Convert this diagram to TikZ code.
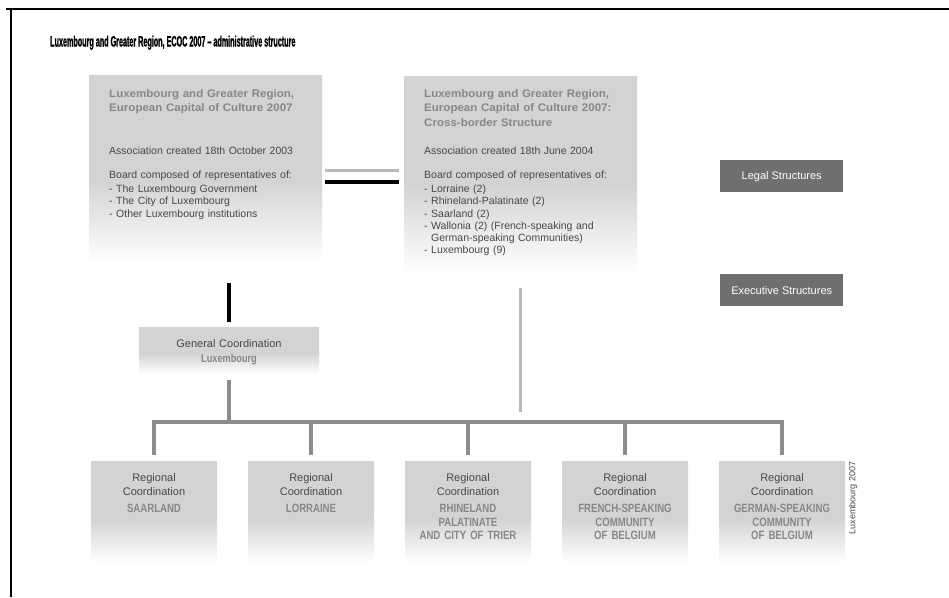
\documentclass[tikz,border=0pt]{standalone}
\usepackage{fontspec}
\setmainfont{Liberation Sans}
\newfontfamily\headfont{Liberation Sans}[FakeStretch=0.48,FakeBold=1.2]
\newfontfamily\btfont{Liberation Sans}[FakeStretch=1.05]
\newfontfamily\capfont{Liberation Sans}[FakeStretch=0.8]
\definecolor{boxgray}{HTML}{D3D3D3}
\definecolor{titlegray}{HTML}{878787}
\definecolor{bodygray}{HTML}{474747}
\definecolor{darkbox}{HTML}{6F6F6F}
\definecolor{linegray}{HTML}{8C8C8C}
\definecolor{lightline}{HTML}{B8B8B8}
\pgfdeclareverticalshading{boxfade}{100bp}{color(0bp)=(white); color(25bp)=(white); color(47bp)=(boxgray); color(100bp)=(boxgray)}
\tikzset{
  fadebox/.style={shade, shading=boxfade, draw=none, inner sep=0pt, outer sep=0pt, anchor=north west},
  darklabel/.style={fill=darkbox, draw=none, inner sep=0pt, anchor=north west, minimum width=123pt, minimum height=32pt, text=white, font=\fontsize{11}{13}\selectfont},
  boxtitle/.style={anchor=base west, inner sep=0pt, text width=225pt, align=left, text=titlegray, font=\btfont\bfseries\fontsize{11}{14.5}\selectfont},
  bodytext/.style={anchor=base west, inner sep=0pt, text width=225pt, align=left, text=bodygray, font=\fontsize{10.5}{12.2}\selectfont},
  regtext/.style={anchor=base, inner sep=0pt, text width=124pt, align=center, text=bodygray, font=\fontsize{11}{14}\selectfont},
  captext/.style={anchor=base, inner sep=0pt, text width=124pt, align=center, text=titlegray, font=\capfont\bfseries\fontsize{12}{13.5}\selectfont},
  blackline/.style={draw=black, line width=3.5pt},
  greyline/.style={draw=linegray, line width=3.5pt},
  paleline/.style={draw=lightline, line width=3pt}
}
\begin{document}
\begin{tikzpicture}[x=1pt,y=-1pt]
\useasboundingbox (0,0) rectangle (949,597);
% frame
\draw[line width=2pt] (6,9) -- (949,9);
\draw[line width=1.6pt] (11,9) -- (11,597);
% title
\node[anchor=base west, inner sep=0pt, font=\headfont\bfseries\fontsize{15}{17}\selectfont] (title) at (50,46.5) {Luxembourg and Greater Region, ECOC 2007 – administrative structure};

% top boxes
\node[fadebox, minimum width=233pt, minimum height=188pt] (box1) at (89,75) {};
\node[fadebox, minimum width=233pt, minimum height=196pt] (box2) at (404,76) {};

\node[boxtitle] (b1t) at (109,97) {Luxembourg and Greater Region,\\European Capital of Culture 2007};
\node[bodytext] (b1a) at (109,154) {Association created 18th October 2003};
\node[bodytext] (b1b) at (109,178) {Board composed of representatives of:\\[2.5pt]- The Luxembourg Government\\- The City of Luxembourg\\- Other Luxembourg institutions};

\node[boxtitle] (b2t) at (424,97) {Luxembourg and Greater Region,\\European Capital of Culture 2007:\\Cross-border Structure};
\node[bodytext] (b2a) at (424,154) {Association created 18th June 2004};
\node[bodytext] (b2b) at (424,178) {Board composed of representatives of:\\[2.5pt]- Lorraine (2)\\- Rhineland-Palatinate (2)\\- Saarland (2)\\- Wallonia (2) (French-speaking and\\\phantom{- }German-speaking Communities)\\- Luxembourg (9)};

% side labels
\node[darklabel] (legal) at (720,160) {Legal Structures};
\node[darklabel] (exec) at (720,274) {Executive Structures};

% general coordination
\node[fadebox, minimum width=180pt, minimum height=47pt] (gc) at (139,327) {};
\node[regtext, text width=178pt] (gct) at (229,347) {General Coordination};
\node[captext, text width=178pt, font=\capfont\bfseries\fontsize{11.5}{13.5}\selectfont] (gcl) at (229,362.5) {Luxembourg};

% regional boxes
\foreach \i/\cx in {1/154,2/311,3/468,4/625,5/782}{
  \node[fadebox, minimum width=126pt, minimum height=102pt] (r\i) at (\cx-63,461) {};
  \node[regtext] (r\i t) at (\cx,481) {Regional\\Coordination};
}
\node[captext] (r1c) at (154,512.5) {SAARLAND};
\node[captext] (r2c) at (311,512.5) {LORRAINE};
\node[captext] (r3c) at (468,512.5) {RHINELAND\\PALATINATE\\AND CITY OF TRIER};
\node[captext] (r4c) at (625,512.5) {FRENCH-SPEAKING\\COMMUNITY\\OF BELGIUM};
\node[captext] (r5c) at (782,512.5) {GERMAN-SPEAKING\\COMMUNITY\\OF BELGIUM};

\node[rotate=90, inner sep=0pt, text=bodygray, font=\fontsize{9}{10}\selectfont] (credit) at (853,498) {Luxembourg 2007};

% connectors
\draw[paleline, shorten <=3pt, shorten >=5pt] (box1.east |- 0,170) -- (box2.west |- 0,170);
\draw[blackline, shorten <=3pt, shorten >=5pt] (box1.east |- 0,182) -- (box2.west |- 0,182);
\draw[blackline, shorten <=20pt, shorten >=5pt] (box1.south -| gc.north) -- (gc.north);
\coordinate (paleend) at (520.5,412);
\draw[paleline, shorten <=16pt] (box2.south) -- (paleend);
\coordinate (bus) at (0,422);
\draw[greyline, shorten <=6pt] (gc.south) -- (gc.south |- bus);
\draw[greyline, line join=miter, shorten <=6pt, shorten >=6pt] (r1.north) -- (r1.north |- bus) -- (r5.north |- bus) -- (r5.north);
\foreach \i in {2,3,4}{
  \draw[greyline, shorten >=6pt] (r\i.north |- bus) -- (r\i.north);
}
\end{tikzpicture}
\end{document}
